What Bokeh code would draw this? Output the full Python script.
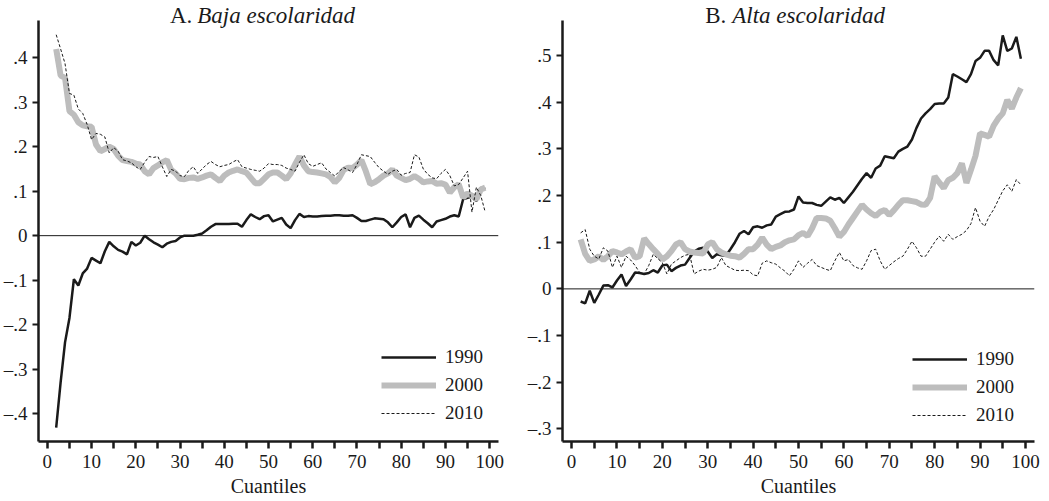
from bokeh.plotting import figure
from bokeh.models import Range1d, FixedTicker, CustomJSTickFormatter, Span, Label
from bokeh.layouts import row
from bokeh.embed import file_html
from bokeh.resources import INLINE

quantiles = list(range(2, 100))

baja_1990 = [-.432, -.33, -.24, -.185, -.098, -.112, -.085, -.074, -.05, -.056,
             -.062, -.035, -.014, -.024, -.032, -.036, -.042, -.014, -.022, -.016,
             0, -.008, -.015, -.02, -.026, -.018, -.014, -.012, -.004, 0,
             0, 0, .002, .005, .012, .02, .026, .026, .026, .026,
             .027, .027, .02, .035, .048, .042, .037, .044, .046, .032,
             .036, .04, .025, .017, .035, .049, .042, .044, .043, .043,
             .044, .045, .045, .046, .046, .045, .045, .046, .04, .033,
             .033, .036, .039, .038, .037, .03, .019, .03, .042, .048,
             .019, .04, .045, .036, .028, .019, .032, .035, .038, .043,
             .046, .043, .082, .085, .088, .078, .108, .105]
baja_2000 = [.42, .36, .355, .28, .272, .255, .248, .246, .245, .205,
             .19, .195, .2, .195, .18, .17, .168, .166, .162, .16,
             .145, .138, .152, .158, .165, .17, .148, .14, .128, .127,
             .13, .131, .128, .131, .135, .138, .13, .123, .135, .142,
             .146, .149, .145, .142, .13, .118, .118, .128, .138, .142,
             .142, .135, .127, .14, .16, .178, .158, .145, .143, .142,
             .14, .138, .132, .12, .13, .148, .153, .152, .16, .17,
             .145, .116, .12, .127, .135, .14, .149, .135, .13, .125,
             .128, .134, .128, .12, .122, .123, .117, .118, .115, .097,
             .109, .116, .086, .095, .09, .082, .104, .108]
baja_2010 = [.452, .42, .387, .32, .316, .285, .275, .25, .216, .23,
             .228, .222, .186, .198, .19, .171, .168, .164, .155, .149,
             .165, .178, .176, .178, .155, .133, .149, .145, .135, .133,
             .147, .155, .14, .15, .16, .167, .16, .155, .158, .16,
             .166, .171, .155, .152, .149, .147, .145, .152, .162, .16,
             .16, .158, .152, .149, .145, .165, .182, .162, .156, .16,
             .164, .15, .142, .134, .145, .153, .148, .142, .16, .182,
             .18, .178, .165, .153, .145, .138, .145, .149, .136, .14,
             .142, .182, .177, .15, .138, .13, .128, .14, .149, .135,
             .112, .115, .13, .145, .053, .109, .09, .053]

alta_1990 = [-.027, -.031, -.004, -.03, -.012, .007, .008, .003, .018, .031,
             .006, .02, .035, .034, .032, .034, .04, .035, .05, .052,
             .038, .045, .05, .052, .066, .08, .086, .088, .08, .066,
             .074, .072, .071, .085, .1, .118, .124, .117, .132, .134,
             .131, .136, .138, .155, .16, .165, .166, .17, .198, .185,
             .184, .184, .18, .178, .187, .196, .191, .195, .184, .196,
             .208, .222, .236, .248, .238, .258, .264, .284, .282, .28,
             .294, .3, .305, .32, .345, .365, .376, .385, .396, .397,
             .397, .41, .46, .455, .449, .443, .46, .488, .495, .51,
             .51, .49, .479, .543, .51, .515, .54, .493]
alta_2000 = [.106, .075, .06, .063, .07, .062, .07, .081, .078, .074,
             .08, .085, .067, .07, .108, .096, .085, .075, .063, .07,
             .081, .095, .1, .085, .08, .078, .077, .076, .095, .1,
             .085, .078, .074, .071, .07, .067, .075, .085, .085, .095,
             .11, .095, .085, .09, .093, .1, .104, .106, .115, .12,
             .113, .13, .152, .152, .151, .146, .13, .112, .122, .138,
             .152, .166, .18, .17, .162, .156, .165, .169, .158, .168,
             .18, .19, .19, .188, .186, .181, .18, .195, .241, .228,
             .216, .233, .238, .248, .269, .227, .255, .285, .333, .33,
             .326, .35, .365, .376, .405, .386, .41, .43]
alta_2010 = [.12, .127, .085, .07, .064, .088, .081, .046, .07, .046,
             .07, .062, .05, .035, .032, .05, .074, .065, .056, .032,
             .053, .06, .067, .072, .074, .032, .038, .042, .04, .042,
             .046, .067, .05, .045, .04, .039, .04, .039, .03, .028,
             .055, .06, .056, .053, .045, .038, .028, .042, .06, .046,
             .055, .063, .05, .046, .042, .039, .06, .078, .06, .063,
             .05, .045, .042, .06, .082, .085, .06, .042, .05, .058,
             .065, .07, .085, .102, .088, .07, .07, .085, .1, .113,
             .102, .117, .106, .112, .117, .125, .14, .174, .145, .134,
             .155, .17, .19, .21, .223, .209, .234, .223]

years = ["1990", "2000", "2010"]
x_ticks = list(range(0, 101, 10))
x_minor = list(range(5, 100, 10))
left_yticks = [-0.4, -0.3, -0.2, -0.1, 0.0, 0.1, 0.2, 0.3, 0.4]
right_yticks = [-0.3, -0.2, -0.1, 0.0, 0.1, 0.2, 0.3, 0.4, 0.5]

SERIF = "Liberation Serif"
INK = "#1a1a1a"
GRAY = "#bdbdbd"

FRAME_H = 441
TITLE_PAD = 20  # px of frame reserved above the axis top for the panel title

fmt_code = """
if (Math.abs(tick) < 1e-9) { return "0"; }
const s = Math.abs(tick).toFixed(1).replace(/^0/, "");
return (tick < 0 ? "\\u2013" : "") + s;
"""


def make_panel(letter, subtitle, series, y_lo, y_hi, yticks, fw, border_right,
               leg_x, leg_y, split_off):
    y_end = y_hi + (y_hi - y_lo) * TITLE_PAD / (FRAME_H - TITLE_PAD)
    p = figure(frame_width=fw, frame_height=FRAME_H, output_backend="svg",
               toolbar_location=None, x_range=Range1d(-2, 102),
               y_range=Range1d(y_lo, y_end), min_border_top=0,
               min_border_left=5, min_border_right=border_right,
               min_border_bottom=0)
    p.outline_line_color = None
    p.xgrid.visible = False
    p.ygrid.visible = False
    p.background_fill_color = "white"

    p.add_layout(Span(location=0, dimension="width", line_color=INK, line_width=1))

    s1990, s2000, s2010 = series
    p.line(quantiles, s1990, line_color=INK, line_width=2.5, legend_label=years[0])
    p.line(quantiles, s2000, line_color=GRAY, line_width=6, legend_label=years[1])
    p.line(quantiles, s2010, line_color=INK, line_width=1, line_dash="3 2",
           legend_label=years[2])

    xa = p.xaxis[0]
    xa.ticker = FixedTicker(ticks=x_ticks, minor_ticks=x_minor)
    xa.axis_label = "Cuantiles"
    xa.axis_label_text_font = SERIF
    xa.axis_label_text_font_style = "normal"
    xa.axis_label_text_font_size = "20px"
    xa.axis_label_text_color = INK
    xa.axis_label_standoff = 4
    xa.major_label_text_font = SERIF
    xa.major_label_text_font_size = "19px"
    xa.major_label_text_color = INK
    xa.major_label_standoff = 6
    xa.axis_line_width = 2.5
    xa.axis_line_color = INK
    xa.major_tick_in = 0
    xa.major_tick_out = 7
    xa.minor_tick_in = 0
    xa.minor_tick_out = 7
    xa.major_tick_line_width = 2.5
    xa.minor_tick_line_width = 2.5
    xa.major_tick_line_color = INK
    xa.minor_tick_line_color = INK

    ya = p.yaxis[0]
    ya.bounds = (y_lo, y_hi)
    ya.ticker = FixedTicker(ticks=yticks, minor_ticks=[])
    ya.formatter = CustomJSTickFormatter(code=fmt_code)
    ya.major_label_text_font = SERIF
    ya.major_label_text_font_size = "19px"
    ya.major_label_text_color = INK
    ya.major_label_standoff = 5
    ya.axis_line_width = 2.5
    ya.axis_line_color = INK
    ya.major_tick_in = 0
    ya.major_tick_out = 6
    ya.major_tick_line_width = 2
    ya.major_tick_line_color = INK

    lg = p.legend[0]
    lg.location = (leg_x, leg_y)
    lg.background_fill_alpha = 0
    lg.border_line_alpha = 0
    lg.padding = 0
    lg.margin = 0
    lg.spacing = 6
    lg.glyph_width = 55
    lg.glyph_height = 20
    lg.label_height = 20
    lg.label_standoff = 9
    lg.label_text_font = SERIF
    lg.label_text_font_size = "19px"
    lg.label_text_color = INK

    a_off, b_off = split_off
    p.add_layout(Label(x=49.5, y=y_hi, x_offset=a_off, y_offset=5, text=letter,
                       text_align="right", text_baseline="alphabetic",
                       text_font=SERIF, text_font_size="23px", text_color=INK))
    p.add_layout(Label(x=49.5, y=y_hi, x_offset=b_off, y_offset=5, text=subtitle,
                       text_align="left", text_baseline="alphabetic",
                       text_font=SERIF, text_font_style="italic",
                       text_font_size="23px", text_color=INK))
    return p


p1 = make_panel("A.", "Baja escolaridad", (baja_1990, baja_2000, baja_2010),
                -0.463, 0.484, left_yticks, 460, 26, 343, 17, (-74, -69))
p2 = make_panel("B.", "Alta escolaridad", (alta_1990, alta_2000, alta_2010),
                -0.327, 0.575, right_yticks, 472, 10, 350, 15, (-70, -64))

layout = row(p1, p2)
open("out.html", "w").write(file_html(layout, INLINE))
